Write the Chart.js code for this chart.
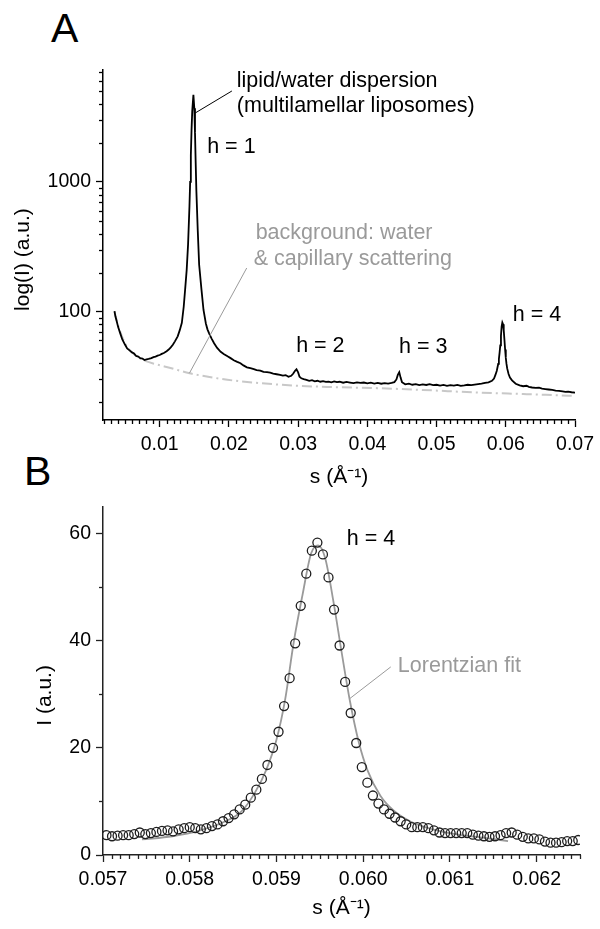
<!DOCTYPE html>
<html><head><meta charset="utf-8">
<script src="https://cdn.jsdelivr.net/npm/chart.js@4.4.1/dist/chart.umd.min.js"></script>
<style>
html,body{margin:0;padding:0;background:#fff;width:600px;height:929px;overflow:hidden;}
#wrap{position:relative;width:600px;height:929px;}
canvas{position:absolute;left:0;}
#cA{top:0}
#cB{top:490px}
.panel{position:absolute;font-family:"Liberation Sans",Arial,sans-serif;font-size:41px;color:#000;line-height:1;}
</style></head><body>
<div id="wrap">
<div class="panel" style="left:51px;top:8px">A</div>
<div class="panel" style="left:24px;top:451px">B</div>
<canvas id="cA" width="600" height="490"></canvas>
<canvas id="cB" width="600" height="439"></canvas>
</div>
<script>
// ---------- Panel A: measured SAXS curve (s in 1/Å, intensity a.u.) ----------
const sA = [
0.00347,0.0036,0.0038,0.0040,0.0043,0.0046,0.0050,0.0053,0.0056,0.0060,
0.0063,0.0066,0.0069,0.0072,0.0075,0.0078,0.0081,0.0084,0.0088,0.0091,
0.0094,0.0097,0.0100,0.0103,0.0106,0.0110,0.0113,0.0116,0.0119,0.0122,
0.0126,0.0129,0.0132,0.01347,0.01367,0.0139,0.0141,0.0143,0.0144,0.0145,
0.0146,0.0147,0.01487,0.0150,0.0151,0.0152,0.0153,0.0155,0.0157,0.01604,
0.01633,0.01667,0.0169,0.01714,0.0175,0.01786,0.0183,0.01881,0.0193,0.0198,
0.02024,0.0207,0.0212,0.02167,0.0221,0.0226,0.0231,0.0236,0.0240,0.02453,
0.0250,0.0255,0.02596,0.0264,0.0269,0.02739,0.0278,0.0282,0.0286,0.0290,
0.0293,0.02955,0.02976,0.0300,0.0302,0.03047,0.0308,0.0312,0.0316,0.0320,
0.0324,0.0328,0.0332,0.0336,0.0340,0.0344,0.0348,0.0352,0.0356,0.0360,
0.0365,0.0370,0.0375,0.0380,0.0385,0.0390,0.0395,0.0400,0.0405,0.0410,
0.0415,0.0420,0.0425,0.0430,0.0435,0.0439,0.0442,0.0444,0.04461,0.0448,
0.0450,0.04547,0.0460,0.0465,0.0470,0.0475,0.0480,0.0485,0.0490,0.0495,
0.0500,0.0505,0.0510,0.0515,0.0520,0.0525,0.0530,0.0535,0.0540,0.0545,
0.0550,0.0555,0.0560,0.0565,0.0570,0.0575,0.0580,0.0583,0.0585,0.0587,
0.0589,0.0590,0.0591,0.0592,0.0593,0.0594,0.0595,0.0596,0.0597,0.0598,
0.0599,0.0600,0.0601,0.0602,0.0604,0.0606,0.0609,0.06143,0.0620,0.0625,
0.0630,0.06333,0.0638,0.0643,0.0648,0.06524,0.0657,0.0662,0.0667,0.0672,
0.0677,0.0682,0.0686,0.0690,0.0695,0.0700];
const iA = [
101,92,84,76,68,61,55.5,52,50.5,48.5,
47.5,45.5,45,43.8,43.5,42.3,42.8,43.2,43.8,44.6,
45,45.8,46.3,47.2,48,49.5,51,53,55.5,59,
64.5,72,82,109,147,210,330,650,1000,1600,
2500,3500,4700,3700,2400,1400,850,420,230,147,
103,81,73,68,62,57,52.5,49,47,45.2,
43.8,42.2,41,40,38.5,37.2,36.6,36,35.4,35.1,
34.3,34.2,33.9,33.3,32.9,32.5,32.1,32.4,31.4,32,
33.3,35,35.9,34,31.5,30.6,30.2,29.8,29.3,29.6,
29,29.3,28.8,29.1,28.7,28.9,28.5,29,28.6,28.8,
28.3,28.7,28.4,28.1,28.5,28.2,28.4,28,28.3,27.9,
28.2,27.8,28.1,27.9,28.2,28.6,30,32.5,34.1,31,
28.6,27.5,27.8,27.3,27.6,27.1,27.5,27.2,27.6,27.1,
27.3,26.9,27.2,26.8,27.1,26.9,27.2,26.8,27,27.3,
27.1,27.4,27.6,27.8,28.2,28.5,29.3,30.5,32.5,35,
39.5,43,48,55,65,77,82.5,80,72,61,
51,44,39.5,36.5,33,31,29.5,27.8,27,26.6,
26.8,26.3,26,25.8,25.9,25.5,25.3,25.1,24.9,24.6,
24.5,24.3,24.1,24.2,23.9,23.7];

// background: water & capillary scattering
const sBg = [0.00347,0.0040,0.0050,0.0060,0.0070,0.0080,0.0093,0.0117,0.0143,0.0174,0.0207,0.0245,0.0293,0.0350,0.0414,0.0480,0.0557,0.0630,0.0700];
const iBg = [100,78,57,48.5,44,41.5,39.5,36.6,33.5,31.2,29.4,28.1,26.9,26.2,25.7,24.9,23.8,23.1,22.4];

// ---------- Panel B: h = 4 reflection (data points) ----------
const sB = [
0.057040,0.057104,0.057168,0.057232,0.057296,0.057360,0.057424,0.057488,0.057552,0.057616,
0.057680,0.057744,0.057808,0.057872,0.057936,0.058000,0.058064,0.058128,0.058192,0.058256,
0.058320,0.058384,0.058448,0.058512,0.058576,0.058640,0.058704,0.058768,0.058832,0.058896,
0.058960,0.059024,0.059088,0.059152,0.059216,0.059280,0.059344,0.059408,0.059472,0.059536,
0.059600,0.059664,0.059728,0.059792,0.059856,0.059920,0.059984,0.060048,0.060112,0.060176,
0.060240,0.060304,0.060368,0.060432,0.060496,0.060560,0.060624,0.060688,0.060752,0.060816,
0.060880,0.060944,0.061008,0.061072,0.061136,0.061200,0.061264,0.061328,0.061392,0.061456,
0.061520,0.061584,0.061648,0.061712,0.061776,0.061840,0.061904,0.061968,0.062032,0.062096,
0.062160,0.062224,0.062288,0.062352,0.062416,0.062480];
const iB = [
3.7,3.5,3.6,3.7,3.7,3.9,4.2,3.9,4.1,4.3,
4.5,4.6,4.4,4.8,5.0,5.2,5.0,4.8,5.0,5.4,
5.7,6.3,6.9,7.6,8.5,9.4,10.7,12.2,14.2,16.8,
20.0,23.0,27.8,33.0,39.5,46.5,52.5,56.8,58.3,56.1,
51.8,45.8,39.1,32.3,26.5,20.9,16.4,13.5,11.1,9.6,
8.5,7.7,7.0,6.3,5.7,5.2,5.2,5.2,5.0,4.6,
4.2,4.1,4.1,4.1,4.1,4.1,3.8,3.6,3.5,3.4,
3.5,3.7,4.1,4.2,3.8,3.4,3.1,3.1,2.9,2.5,
2.3,2.3,2.4,2.6,2.6,2.8];

// Lorentzian fit curve
const sFit = [0.05745,0.05780,0.05812,0.05840,0.05860,0.05875,0.05888,0.05900,0.05910,0.05920,0.05930,0.05940,0.05948,0.05956,0.05966,0.05975,0.05985,0.05995,0.06005,0.06020,0.06035,0.06055,0.06080,0.06110,0.06140,0.06167];
const iFit = [2.9,3.5,4.6,6.2,8.2,11.6,15.8,21.5,29,39.8,48.5,56.3,57.8,55.5,47,38,28.5,21,15.8,11,8.3,6.2,4.8,3.8,3.2,2.6];

// ---------- tick labels ----------
const xTicksA = [0.01,0.02,0.03,0.04,0.05,0.06,0.07];
const xLabelsA = ['0.01','0.02','0.03','0.04','0.05','0.06','0.07'];
const yTicksA = [100,1000];
const yLabelsA = ['100','1000'];
const xTicksB = [0.057,0.058,0.059,0.060,0.061,0.062];
const xLabelsB = ['0.057','0.058','0.059','0.060','0.061','0.062'];
const yTicksB = [0,20,40,60];
const yLabelsB = ['0','20','40','60'];

// ---------- annotations (anchored in data coordinates) ----------
const notesA = [
  {t:'lipid/water dispersion', s:0.02114, v:5400, c:'#000'},
  {t:'(multilamellar liposomes)', s:0.02114, v:3465, c:'#000'},
  {t:'h = 1', s:0.01686, v:1673, c:'#000'},
  {t:'background: water', s:0.02386, v:363, c:'#9a9a9a'},
  {t:'& capillary scattering', s:0.02357, v:229, c:'#9a9a9a'},
  {t:'h = 2', s:0.02971, v:48.9, c:'#000'},
  {t:'h = 3', s:0.04457, v:48, c:'#000'},
  {t:'h = 4', s:0.0610, v:84.8, c:'#000'}
];
const leadersA = [
  {s1:0.02043, v1:5030, s2:0.01514, v2:3404, c:'#000'},
  {s1:0.02257, v1:217, s2:0.01429, v2:33.5, c:'#9a9a9a'}
];
const notesB = [
  {t:'h = 4', s:0.05981, v:57.8, c:'#000'},
  {t:'Lorentzian fit', s:0.0604, v:34.1, c:'#9a9a9a'}
];
const leadersB = [
  {s1:0.060318, v1:35.1, s2:0.059846, v2:29.2, c:'#9a9a9a'}
];

// minor tick values
const minorXA = []; for (let k = 2; k <= 70; k++) if (k % 10) minorXA.push(k / 1000);
const minorYA = []; [10,100,1000].forEach(d => { for (let m = 2; m <= 9; m++) minorYA.push(m * d); });
const minorXB = []; for (let k = 570; k <= 625; k++) if (k % 10) minorXB.push(k / 10000);
const minorYB = [10,30,50];

const FONT = '"Liberation Sans", Arial, sans-serif';
Chart.defaults.font.family = FONT;
Chart.defaults.color = '#000';

const deco = {
  id: 'deco',
  afterDraw(chart, args, o) {
    const ctx = chart.ctx, xs = chart.scales.x, ys = chart.scales.y;
    ctx.save();
    ctx.strokeStyle = o.axisColor; ctx.lineWidth = 1.3;
    o.minorX.forEach(v => {
      if (v < xs.min || v > xs.max) return;
      const p = Math.round(xs.getPixelForValue(v)) + 0.5;
      ctx.beginPath(); ctx.moveTo(p, xs.top); ctx.lineTo(p, xs.top + 4); ctx.stroke();
    });
    o.minorY.forEach(v => {
      if (v < ys.min || v > ys.max) return;
      const p = Math.round(ys.getPixelForValue(v)) + 0.5;
      ctx.beginPath(); ctx.moveTo(ys.right, p); ctx.lineTo(ys.right - 4, p); ctx.stroke();
    });
    ctx.lineWidth = 1;
    o.leaders.forEach(l => {
      ctx.strokeStyle = l.c;
      ctx.beginPath();
      ctx.moveTo(xs.getPixelForValue(l.s1), ys.getPixelForValue(l.v1));
      ctx.lineTo(xs.getPixelForValue(l.s2), ys.getPixelForValue(l.v2));
      ctx.stroke();
    });
    ctx.font = '21.5px ' + FONT;
    ctx.textAlign = 'left'; ctx.textBaseline = 'alphabetic';
    o.notes.forEach(n => {
      ctx.fillStyle = n.c;
      ctx.fillText(n.t, xs.getPixelForValue(n.s), ys.getPixelForValue(n.v));
    });
    ctx.restore();
  }
};

function axisCommon(color) {
  return {
    grid: {drawOnChartArea:false, drawTicks:true, tickLength:7, tickWidth:1.3, tickColor:color},
    border: {display:true, color:color, width:1.5}
  };
}

const NB = '\u00A0\u00A0\u00A0\u00A0\u00A0';

new Chart(document.getElementById('cA'), {
  type: 'line',
  data: {
    datasets: [
      {label:'lipid/water dispersion', data: sA.map((s,i)=>({x:s, y:iA[i]})),
       borderColor:'#000', borderWidth:1.8, pointRadius:0, tension:0, fill:false, order:1},
      {label:'background', data: sBg.map((s,i)=>({x:s, y:iBg[i]})),
       borderColor:'#c8c8c8', borderWidth:2, borderDash:[10,4,2,4], pointRadius:0, tension:0.4, cubicInterpolationMode:'monotone', fill:false, order:2}
    ]
  },
  options: {
    responsive:false, animation:false, events:[],
    layout: {padding:{top:70, right:20, left:0, bottom:0}},
    plugins: {legend:{display:false}, tooltip:{enabled:false},
      deco: {axisColor:'#000', minorX:minorXA, minorY:minorYA, notes:notesA, leaders:leadersA}},
    scales: {
      x: Object.assign({
        type:'linear', min:0.00181, max:0.07,
        afterBuildTicks: s => { s.ticks = xTicksA.map(v => ({value:v})); },
        afterFit: s => { s.height = 70; },
        ticks: {callback:(v,i)=>xLabelsA[i], font:{size:19.5}, color:'#000', padding:6, maxRotation:0, autoSkip:false},
        title: {display:true, text:'s (Å⁻¹)', font:{size:21}, color:'#000', padding:{top:0, bottom:0}}
      }, axisCommon('#000')),
      y: Object.assign({
        type:'logarithmic', min:14.6, max:7300,
        afterBuildTicks: s => { s.ticks = yTicksA.map(v => ({value:v})); },
        afterFit: s => { s.width = 103; },
        ticks: {callback:(v,i)=>yLabelsA[i], font:{size:19.5}, color:'#000', padding:5, autoSkip:false},
        title: {display:true, text:'log(I) (a.u.)' + NB, font:{size:21}, color:'#000', padding:{top:11, bottom:0}}
      }, axisCommon('#000'))
    }
  },
  plugins: [deco]
});

new Chart(document.getElementById('cB'), {
  type: 'line',
  data: {
    datasets: [
      {label:'data', data: sB.map((s,i)=>({x:s, y:iB[i]})), showLine:false,
       pointStyle:'circle', pointRadius:4.5, pointBorderWidth:1.3, pointBorderColor:'#1e1e1e',
       pointBackgroundColor:'rgba(255,255,255,0)', order:1},
      {label:'Lorentzian fit', data: sFit.map((s,i)=>({x:s, y:iFit[i]})),
       borderColor:'#9a9a9a', borderWidth:1.8, pointRadius:0, tension:0.35, cubicInterpolationMode:'monotone', fill:false, order:2}
    ]
  },
  options: {
    responsive:false, animation:false, events:[],
    layout: {padding:{top:13, right:20, left:0, bottom:0}},
    plugins: {legend:{display:false}, tooltip:{enabled:false},
      deco: {axisColor:'#222', minorX:minorXB, minorY:minorYB, notes:notesB, leaders:leadersB}},
    scales: {
      x: Object.assign({
        type:'linear', min:0.057, max:0.0625,
        afterBuildTicks: s => { s.ticks = xTicksB.map(v => ({value:v})); },
        afterFit: s => { s.height = 74; },
        ticks: {callback:(v,i)=>xLabelsB[i], font:{size:19.5}, color:'#000', padding:6, maxRotation:0, autoSkip:false},
        title: {display:true, text:'s (Å⁻¹)', font:{size:21}, color:'#000', padding:{top:0, bottom:8}}
      }, axisCommon('#222')),
      y: Object.assign({
        type:'linear', min:0, max:65,
        afterBuildTicks: s => { s.ticks = yTicksB.map(v => ({value:v})); },
        afterFit: s => { s.width = 103; },
        ticks: {callback:(v,i)=>yLabelsB[i], font:{size:19.5}, color:'#000', padding:5, autoSkip:false},
        title: {display:true, text:'I (a.u.)' + NB, font:{size:21}, color:'#000', padding:{top:33, bottom:0}}
      }, axisCommon('#222'))
    }
  },
  plugins: [deco]
});
</script>
</body></html>
